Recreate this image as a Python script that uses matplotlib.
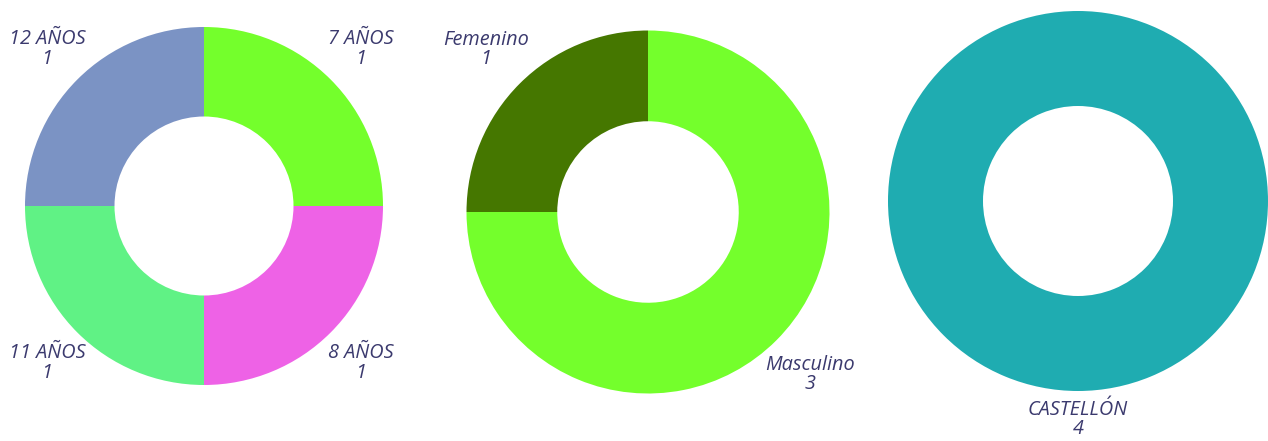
import matplotlib
matplotlib.use("Agg")
import matplotlib.pyplot as plt

# datos
edades = ["7 AÑOS", "8 AÑOS", "11 AÑOS", "12 AÑOS"]
edades_n = [1, 1, 1, 1]
edades_col = ["#74ff2c", "#ee62e6", "#60f285", "#7b93c4"]

sexo = ["Masculino", "Femenino"]
sexo_n = [3, 1]
sexo_col = ["#74ff2c", "#457700"]

provincia = ["CASTELLÓN"]
provincia_n = [4]
provincia_col = ["#1facb1"]

W, H = 1268, 441
fig = plt.figure(figsize=(W / 100, H / 100), dpi=100)
ax = fig.add_axes([0, 0, 1, 1])

txt = dict(color="#3b3a6e", fontsize=14.3, fontstyle="italic", family=["Open Sans", "DejaVu Sans"])


def dona(nombres, valores, colores, cx, cy, r, ld):
    etiquetas = [f"{n}\n{v}" for n, v in zip(nombres, valores)]
    wedges, texts = ax.pie(valores, labels=etiquetas, colors=colores, startangle=90,
                           counterclock=False, center=(cx, H - cy), radius=r,
                           labeldistance=ld, wedgeprops=dict(width=r * 0.5, linewidth=0),
                           textprops=txt)
    for t in texts:
        t.set_ha("center")
        t.set_va("center")
        t.set_multialignment("center")
        t.set_linespacing(0.95)


dona(edades, edades_n, edades_col, 204, 206, 179, 1.24)
dona(sexo, sexo_n, sexo_col, 648, 212, 181.5, 1.265)
dona(provincia, provincia_n, provincia_col, 1078, 201, 190, 1.15)

ax.set_xlim(0, W)
ax.set_ylim(0, H)
ax.set_aspect("equal")
ax.axis("off")

fig.savefig("out.png", dpi=100, facecolor="white")
